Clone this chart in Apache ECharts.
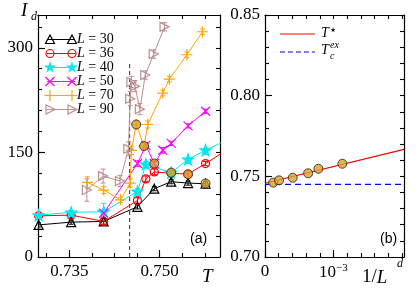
<!DOCTYPE html>
<html><head><meta charset="utf-8">
<script src="https://cdn.jsdelivr.net/npm/echarts@6/dist/echarts.min.js"></script>
<style>html,body{margin:0;padding:0;background:#fff}#c{width:416px;height:296px}</style>
</head><body><div id="c"></div><script>
// ---------- data: panel (a) ----------
const T30 = [0.7299,0.7353,0.7407,0.7463,0.7491,0.7519,0.7547,0.7576];
const I30 = [46,50,51,72,98,108,106,105];
const E30 = [3,3,4,3,3,3,3,3];
const T36 = [0.7299,0.7353,0.7407,0.7463,0.7477,0.7491,0.7519,0.7547,0.7576,0.7605];
const I36 = [59,60,51,81,112,122,120,119,134,150];
const E36 = [3,3,5,4,4,4,3,3,3,3];
const T40 = [0.7299,0.7353,0.7407,0.7463,0.7477,0.7519,0.7547,0.7576,0.7605];
const I40 = [60,64,65,94,133,121,140,153,165];
const E40 = [3,3,12,4,4,3,3,3,3];
const T50 = [0.7407,0.7463,0.7477,0.7491,0.7505,0.7519,0.7547,0.7576];
const I50 = [63,134,160,134,153,163,188,209];
const E50 = [4,4,4,4,4,3,3,3];
const T70 = [0.7380,0.7407,0.7435,0.7451,0.7453,0.7461,0.7474,0.7480,0.7505,0.7516,0.7545,0.7571];
const I70 = [107,96,82,106,153,190,159,190,235,255,290,323];
const E70 = [8,5,4,6,6,5,5,5,4,4,4,4];
const T90 = [0.7379,0.7406,0.7434,0.7448,0.7451,0.7453,0.7459,0.7467,0.7476,0.7490,0.7508];
const I90 = [96,116,109,155,227,251,245,212,261,291,330];
const E90 = [16,10,8,10,10,8,8,8,6,6,6];
const Tstar_A = [0.7461,0.7474,0.7491,0.7519,0.7547,0.7576];
const Istar_A = [190,159,134,121,118.5,105.5];
const TcEx = 0.745;
const dashTop = 279;
const sizesL = ['30','36','40','50','70','90'];
// ---------- data: panel (b) ----------
const invLd = [1.2e-4,2.05e-4,4.05e-4,6.3e-4,7.8e-4,1.13e-3];
const Tstar_B = [0.7461,0.7475,0.7491,0.7519,0.7547,0.7578];
const fitX = [0, 0.00203];
const fitY = [0.7457, 0.7667];
// ---------- ticks ----------
const xTicksA = [0.73125,0.735,0.73875,0.7425,0.74625,0.75,0.75375,0.7575];
const xLabA = [0.735,0.75];
const yTicksA = [0,30,60,90,120,150,180,210,240,270,300,330];
const yLabA = [0,150,300];
const xTicksB = [0,0.0002,0.0004,0.0006,0.0008,0.001,0.0012,0.0014,0.0016,0.0018,0.002];
const xLabB = [0,0.001];
const yTicksB = [0.70,0.71,0.72,0.73,0.74,0.75,0.76,0.77,0.78,0.79,0.80,0.81,0.82,0.83,0.84,0.85];
const yLabB = [0.70,0.75,0.80,0.85];

const SERIF = 'Liberation Serif';
const zip = (a,b,c) => a.map((v,i)=> c ? [v,b[i],c[i]] : [v,b[i]]);

const P = {
  star: 'path://M5,0L6.2,3.6L10,3.6L6.9,5.9L8.1,9.5L5,7.3L1.9,9.5L3.1,5.9L0,3.6L3.8,3.6Z',
  plus: 'path://M5,0L5,10M0,5L10,5',
  cross: 'path://M0,0L10,10M10,0L0,10',
  rtri: 'path://M0,0L10,5L0,10Z',
  tri: 'path://M5,0L10,9L0,9Z'
};
const styles = [
  {name:'L = 30', T:T30, I:I30, E:E30, color:'#000000', sym:P.tri, size:9, fill:'none'},
  {name:'L = 36', T:T36, I:I36, E:E36, color:'#ff0000', sym:'circle', size:8, fill:'none'},
  {name:'L = 40', T:T40, I:I40, E:E40, color:'#00e8f0', sym:P.star, size:11, fill:'#00e8f0'},
  {name:'L = 50', T:T50, I:I50, E:E50, color:'#ff00ff', sym:P.cross, size:9, fill:'none'},
  {name:'L = 70', T:T70, I:I70, E:E70, color:'#ffa500', sym:P.plus, size:11, fill:'none'},
  {name:'L = 90', T:T90, I:I90, E:E90, color:'#bc8f8f', sym:P.rtri, size:9, fill:'none'}
];

function axisX(grid, pos, min, max, ticks, len, labels, fmt, showLine){
  return {type:'value', gridIndex:grid, position:pos, min, max, scale:true,
    axisLine:{show:showLine, onZero:false, lineStyle:{color:'#000', width:1.2}},
    axisTick:{show:true, inside:true, length:len, customValues:ticks, lineStyle:{color:'#000', width:1.1}},
    axisLabel:{show:!!labels, customValues:labels||[], formatter:fmt, color:'#000', fontFamily:SERIF, fontSize:17, margin:6, rich:{sup:{fontSize:11, fontFamily:SERIF, padding:[0,0,9,0]}, b:{fontSize:17,fontFamily:SERIF}}},
    splitLine:{show:false}};
}

const xAxis = [
  axisX(0,'bottom',0.7298,0.7600,xTicksA,4,null,null,true),
  axisX(0,'bottom',0.7298,0.7600,xLabA,7,xLabA,v=>v.toFixed(3),false),
  axisX(0,'top',0.7298,0.7600,xTicksA,4,null,null,true),
  axisX(1,'bottom',0,0.00203,xTicksB,4,null,null,true),
  axisX(1,'bottom',0,0.00203,xLabB,7,xLabB,v=> v===0?'0':'{b|10}{sup|−3}',false),
  axisX(1,'top',0,0.00203,xTicksB,4,null,null,true)
];
const yAxis = [
  axisX(0,'left',0,347,yTicksA,4,null,null,true),
  axisX(0,'left',0,347,yLabA,7,yLabA,v=>String(v),false),
  axisX(0,'right',0,347,yTicksA,4,null,null,true),
  axisX(1,'left',0.70,0.85,yTicksB,4,null,null,true),
  axisX(1,'left',0.70,0.85,yLabB,7,yLabB,v=>v.toFixed(2),false),
  axisX(1,'right',0.70,0.85,yTicksB,4,null,null,true)
];
yAxis.forEach(a=>{a.axisLabel.margin=5;});

const series = [];
// dashed Tc line (panel a)
series.push({type:'line', xAxisIndex:0, yAxisIndex:0, data:[[TcEx,0],[TcEx,dashTop]], symbol:'none',
  lineStyle:{color:'#4d4d4d', width:1.2, type:[4,3]}, z:1, silent:true});
styles.forEach(s=>{
  series.push({type:'custom', xAxisIndex:0, yAxisIndex:0, data:zip(s.T,s.I,s.E), z:2, clip:true,
    encode:{x:0,y:1},
    renderItem:(params, api)=>{
      const x=api.value(0), y=api.value(1), e=api.value(2);
      const p1=api.coord([x,y-e]), p2=api.coord([x,y+e]);
      return {type:'group', children:[
        {type:'line', shape:{x1:p1[0],y1:p1[1],x2:p2[0],y2:p2[1]}, style:{stroke:s.color, lineWidth:1}},
        {type:'line', shape:{x1:p1[0]-2.5,y1:p1[1],x2:p1[0]+2.5,y2:p1[1]}, style:{stroke:s.color, lineWidth:1}},
        {type:'line', shape:{x1:p2[0]-2.5,y1:p2[1],x2:p2[0]+2.5,y2:p2[1]}, style:{stroke:s.color, lineWidth:1}}
      ]};
    }});
  series.push({type:'line', name:s.name, xAxisIndex:0, yAxisIndex:0, data:zip(s.T,s.I), symbol:s.sym, symbolSize:s.size,
    clip:true, z:3, lineStyle:{color:s.color, width:1}, itemStyle:{color:s.fill==='none'?'rgba(0,0,0,0)':s.fill, borderColor:s.color, borderWidth:1.2},
    emphasis:{disabled:true}, animation:false});
});
series.push({type:'scatter', xAxisIndex:0, yAxisIndex:0, data:zip(Tstar_A,Istar_A), symbol:'circle', symbolSize:9, z:5,
  itemStyle:{color:'#d9a22a', borderColor:'#222', borderWidth:1}});
// panel b
series.push({type:'line', xAxisIndex:3, yAxisIndex:3, data:[[0,TcEx],[0.00203,TcEx]], symbol:'none',
  lineStyle:{color:'#0000ff', width:1.2, type:[6,4]}, z:2});
series.push({type:'line', xAxisIndex:3, yAxisIndex:3, data:zip(fitX,fitY), symbol:'none',
  lineStyle:{color:'#ff0000', width:1.2}, z:3});
series.push({type:'scatter', xAxisIndex:3, yAxisIndex:3, data:zip(invLd,Tstar_B), symbol:'circle', symbolSize:9, z:5,
  itemStyle:{color:'#d9a22a', borderColor:'#222', borderWidth:1}});

// legend (panel a) drawn as graphic
const graphic = [];
function markerG(type, cx, cy, color){
  const st = {stroke:color, fill:'none', lineWidth:1.2};
  if(type===0) return {type:'polygon', shape:{points:[[cx-4.5,cy+4],[cx+4.5,cy+4],[cx,cy-4.5]]}, style:st};
  if(type===1) return {type:'circle', shape:{cx,cy,r:4}, style:st};
  if(type===2){ const pts=[]; for(let k=0;k<10;k++){const r=k%2?2.3:5.5; const a=-Math.PI/2+k*Math.PI/5; pts.push([cx+r*Math.cos(a),cy+r*Math.sin(a)]);} return {type:'polygon', shape:{points:pts}, style:{fill:color, stroke:color, lineWidth:0.5}}; }
  if(type===3) return {type:'group', children:[{type:'line',shape:{x1:cx-4.5,y1:cy-4.5,x2:cx+4.5,y2:cy+4.5},style:st},{type:'line',shape:{x1:cx+4.5,y1:cy-4.5,x2:cx-4.5,y2:cy+4.5},style:st}]};
  if(type===4) return {type:'group', children:[{type:'line',shape:{x1:cx-5.5,y1:cy,x2:cx+5.5,y2:cy},style:st},{type:'line',shape:{x1:cx,y1:cy-5.5,x2:cx,y2:cy+5.5},style:st}]};
  return {type:'polygon', shape:{points:[[cx-4,cy-4.5],[cx-4,cy+4.5],[cx+5,cy]]}, style:st};
}
styles.forEach((s,i)=>{
  const y = 39.5 + i*14;
  graphic.push({type:'line', shape:{x1:47,y1:y,x2:75,y2:y}, style:{stroke:s.color, lineWidth:1}, z:10});
  graphic.push(Object.assign(markerG(i,50,y,s.color),{z:11}));
  graphic.push(Object.assign(markerG(i,72,y,s.color),{z:11}));
  graphic.push({type:'text', x:77, y:y, z:11, style:{text:'{i|L} = '+sizesL[i], fill:'#000', verticalAlign:'middle',
    font:'14px '+SERIF, rich:{i:{fontStyle:'italic', fontSize:14, fontFamily:SERIF}}}});
});
// legend (panel b)
graphic.push({type:'line', shape:{x1:280,y1:34,x2:315,y2:34}, style:{stroke:'#ff0000', lineWidth:1.2}});
graphic.push({type:'line', shape:{x1:280,y1:52,x2:315,y2:52}, style:{stroke:'#0000ff', lineWidth:1.2, lineDash:[5,3]}});
graphic.push({type:'text', x:321, y:26, style:{text:'T', font:'italic 14px '+SERIF, fill:'#000'}});
graphic.push({type:'text', x:329, y:24, style:{text:'⋆', font:'13px "DejaVu Sans"', fill:'#000'}});
graphic.push({type:'text', x:321, y:43, style:{text:'T', font:'italic 14px '+SERIF, fill:'#000'}});
graphic.push({type:'text', x:330, y:40, style:{text:'ex', font:'italic 10px '+SERIF, fill:'#000'}});
graphic.push({type:'text', x:330, y:51, style:{text:'c', font:'italic 10px '+SERIF, fill:'#000'}});
// axis names and panel tags
graphic.push({type:'text', x:21, y:1, style:{text:'I', font:'italic 19px '+SERIF, fill:'#000'}});
graphic.push({type:'text', x:31, y:11, style:{text:'d', font:'italic 12px '+SERIF, fill:'#000'}});
graphic.push({type:'text', x:202, y:267, style:{text:'T', font:'italic 19px '+SERIF, fill:'#000'}});
graphic.push({type:'text', x:362, y:268, style:{text:'{n|1/}{i|L}', font:'19px '+SERIF, fill:'#000', rich:{n:{fontSize:19,fontFamily:SERIF},i:{fontSize:19,fontFamily:SERIF,fontStyle:'italic'}}}});
graphic.push({type:'text', x:397, y:258, style:{text:'d', font:'italic 12px '+SERIF, fill:'#000'}});
graphic.push({type:'text', x:190, y:232, style:{text:'(a)', font:'14px "Liberation Sans"', fill:'#000'}});
graphic.push({type:'text', x:380, y:232, style:{text:'(b)', font:'14px "Liberation Sans"', fill:'#000'}});

const chart = echarts.init(document.getElementById('c'), null, {renderer:'canvas'});
chart.setOption({
  animation:false,
  backgroundColor:'#fff',
  grid:[{left:38, right:196, top:15, bottom:39}, {left:265, right:12, top:15, bottom:39}],
  xAxis, yAxis, series, graphic
});
</script></body></html>
